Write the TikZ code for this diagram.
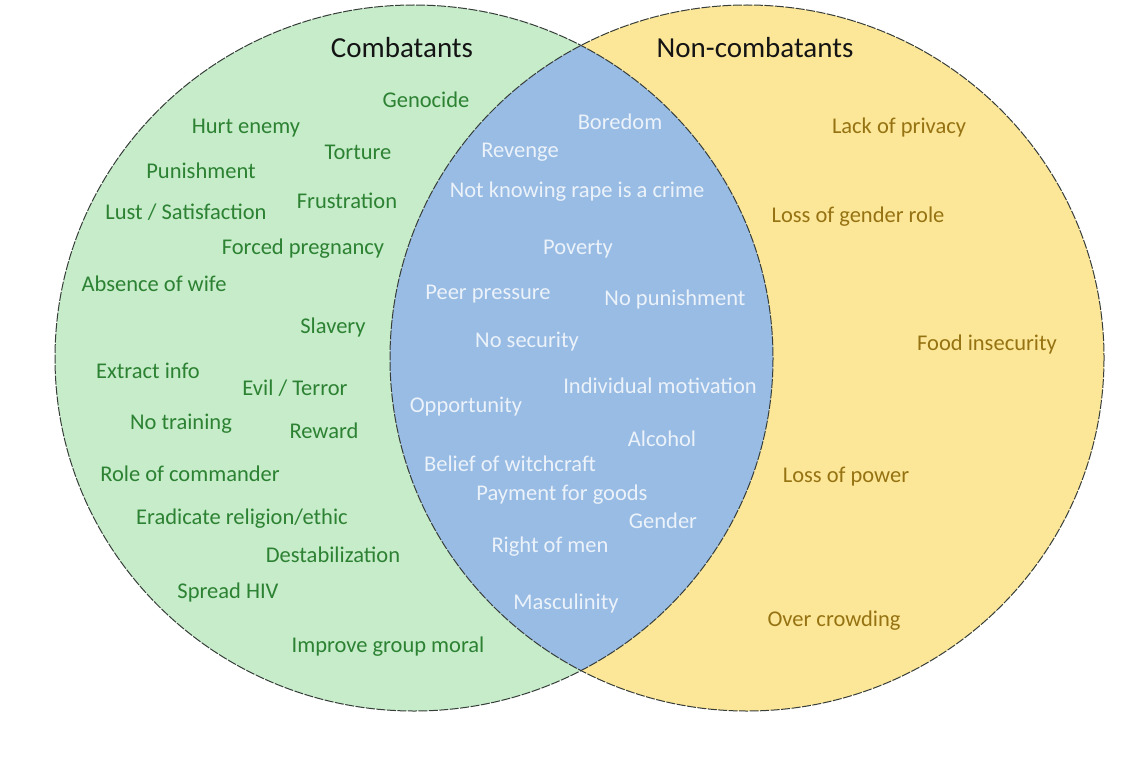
\documentclass[tikz,border=0pt]{standalone}
\usepackage{fontspec}
\setmainfont{Carlito}
\definecolor{gfill}{RGB}{198,236,202}
\definecolor{yfill}{RGB}{252,230,152}
\definecolor{bfill}{RGB}{152,188,228}
\definecolor{gtext}{RGB}{44,130,50}
\definecolor{ytext}{RGB}{150,115,18}
\definecolor{btext}{RGB}{236,242,250}
\definecolor{ttext}{RGB}{20,20,20}
\definecolor{edge}{RGB}{55,62,58}
\tikzset{
  itemfont/.style={font=\fontsize{22.5}{26}\selectfont, inner sep=0pt},
  gt/.style={itemfont, text=gtext},
  yt/.style={itemfont, text=ytext},
  bt/.style={itemfont, text=btext},
  title/.style={font=\fontsize{29}{34}\selectfont, text=ttext, inner sep=0pt},
  outline/.style={draw=edge, line width=1pt, dash pattern=on 9pt off 1.5pt}
}
\begin{document}
\begin{tikzpicture}[x=1pt,y=-1pt]
\useasboundingbox (0,0) rectangle (1139,765);
\fill[white] (0,0) rectangle (1139,765);
% circles
\fill[gfill] (414,358) ellipse [x radius=359, y radius=353];
\fill[yfill] (747,358) ellipse [x radius=357, y radius=353];
\begin{scope}
  \clip (414,358) ellipse [x radius=359, y radius=353];
  \fill[bfill] (747,358) ellipse [x radius=357, y radius=353];
\end{scope}
\draw[outline] (414,358) ellipse [x radius=359, y radius=353];
\draw[outline] (747,358) ellipse [x radius=357, y radius=353];
% titles
\node[title] (tc) at (402,48) {Combatants};
\node[title] (tn) at (755,48) {Non-combatants};
% combatants
\node[gt] (g1) at (426,100) {Genocide};
\node[gt] (g2) at (246,128) {Hurt enemy};
\node[gt] (g3) at (358,152) {Torture};
\node[gt] (g4) at (201,171) {Punishment};
\node[gt] (g5) at (347,201) {Frustration};
\node[gt] (g6) at (186,212) {Lust / Satisfaction};
\node[gt] (g7) at (303,249) {Forced pregnancy};
\node[gt] (g8) at (154,284) {Absence of wife};
\node[gt] (g9) at (333,327) {Slavery};
\node[gt] (g10) at (148,371) {Extract info};
\node[gt] (g11) at (295,388) {Evil / Terror};
\node[gt] (g12) at (181,424) {No training};
\node[gt] (g13) at (324,431) {Reward};
\node[gt] (g14) at (190,474) {Role of commander};
\node[gt] (g15) at (242,519) {Eradicate religion/ethic};
\node[gt] (g16) at (333,555) {Destabilization};
\node[gt] (g17) at (228,592) {Spread HIV};
\node[gt] (g18) at (388,647) {Improve group moral};
% both
\node[bt] (b1) at (620,122) {Boredom};
\node[bt] (b2) at (520,152) {Revenge};
\node[bt] (b3) at (577,192) {Not knowing rape is a crime};
\node[bt] (b4) at (578,249) {Poverty};
\node[bt] (b5) at (488,294) {Peer pressure};
\node[bt] (b6) at (675,299) {No punishment};
\node[bt] (b7) at (527,342) {No security};
\node[bt] (b8) at (660,386) {Individual motivation};
\node[bt] (b9) at (466,407) {Opportunity};
\node[bt] (b10) at (662,439) {Alcohol};
\node[bt] (b11) at (510,464) {Belief of witchcraft};
\node[bt] (b12) at (562,495) {Payment for goods};
\node[bt] (b13) at (663,521) {Gender};
\node[bt] (b14) at (550,547) {Right of men};
\node[bt] (b15) at (566,603) {Masculinity};
% non-combatants
\node[yt] (y1) at (899,128) {Lack of privacy};
\node[yt] (y2) at (858,217) {Loss of gender role};
\node[yt] (y3) at (987,344) {Food insecurity};
\node[yt] (y4) at (846,477) {Loss of power};
\node[yt] (y5) at (834,621) {Over crowding};
\end{tikzpicture}
\end{document}
